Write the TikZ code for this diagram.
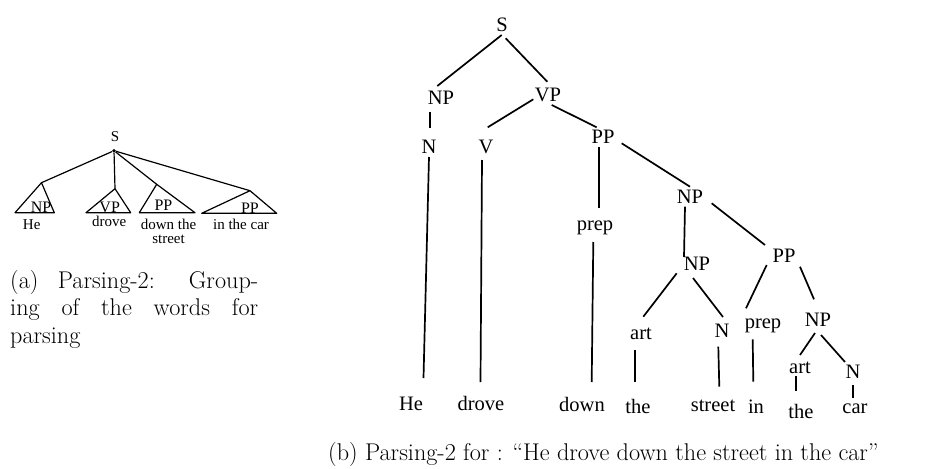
\documentclass[tikz,border=0pt]{standalone}
\usepackage{fontspec}
\newfontfamily\tms{Liberation Serif}
\begin{document}
\begin{tikzpicture}[x=1pt,y=-1pt,
  lbl/.style={font=\tms\fontsize{20.5}{24}\selectfont, inner sep=0, anchor=base},
  small/.style={font=\tms\fontsize{15}{13.6}\selectfont, inner sep=0, anchor=base},
  tri/.style={font=\tms\fontsize{16}{18}\selectfont, inner sep=0, anchor=base},
  edge/.style={line width=1.7pt},
  thinedge/.style={line width=1.2pt, line join=round},
  captxt/.style={font=\fontsize{24.2}{27.5}\selectfont, inner sep=0}]
\useasboundingbox (0,0) rectangle (938,469);

% ---------- (a) grouping of the words ----------
\node[small] (sa) at (115,141.7) {S};
\node[circle, fill, inner sep=0, minimum size=3.6pt] (root) at (114,150.7) {};
\coordinate (tnp) at (41.5,182.7);
\coordinate (tvp) at (115,188.7);
\coordinate (tpp) at (156.7,184.3);
\coordinate (tpq) at (250,190.7);
\draw[thinedge] (tnp) -- (15,212.7) -- (54.3,212.7) -- cycle;
\draw[thinedge] (tvp) -- (86,212.7) -- (130.7,212.7) -- cycle;
\draw[thinedge] (tpp) -- (139.3,212.7) -- (195,212.7) -- cycle;
\draw[thinedge] (tpq) -- (201.7,213.3) -- (276.7,213.3) -- cycle;
\draw[thinedge] (root) -- (tnp);
\draw[thinedge] (root) -- (tvp);
\draw[thinedge] (root) -- (tpp);
\draw[thinedge] (root) -- (tpq);
\node[tri] (gnp) at (41,212) {NP};
\node[tri] (gvp) at (109.7,212) {VP};
\node[tri] (gpp) at (163.5,210) {PP};
\node[tri] (gpq) at (250,213) {PP};
\node[small] (ghe) at (31.7,229.3) {He};
\node[small] (gdrove) at (109.3,226.7) {drove};
% two-line label: its base anchor sits on the last line
\node[small, align=center] (gdown) at (168.5,243) {down the\\street};
\node[small] (gcar) at (241,229.3) {in the car};

\node[captxt, anchor=base west] (capa) at (10,288)
  {\parbox[t]{248pt}{(a) Parsing-2: Group-\linebreak ing of the words for\linebreak parsing}};

% ---------- (b) full parse tree ----------
\node[lbl] (s) at (502,31) {S};
\node[lbl] (np1) at (441,104) {NP};
\node[lbl] (vp) at (548,101) {VP};
\node[lbl] (n1) at (429,153) {N};
\node[lbl] (v) at (486,153) {V};
\node[lbl] (pp1) at (603,143) {PP};
\node[lbl] (prep1) at (595,230) {prep};
\node[lbl] (np2) at (690,203) {NP};
\node[lbl] (np3) at (697,270) {NP};
\node[lbl] (pp2) at (784,262) {PP};
\node[lbl] (art1) at (641,339) {art};
\node[lbl] (n2) at (722,337) {N};
\node[lbl] (prep2) at (763,328) {prep};
\node[lbl] (np4) at (818,326) {NP};
\node[lbl] (art2) at (800,373) {art};
\node[lbl] (n3) at (853,378) {N};
\node[lbl] (he) at (411,410) {He};
\node[lbl] (drove) at (481,410) {drove};
\node[lbl] (down) at (582,411) {down};
\node[lbl] (the1) at (638,413) {the};
\node[lbl] (street) at (713,411) {street};
\node[lbl] (in) at (756,413) {in};
\node[lbl] (the2) at (801,418) {the};
\node[lbl] (car) at (855,413) {car};

\draw[edge] ([shift={(-0.3,4)}]s.base) -- ([shift={(-3.7,-18)}]np1.base);
\draw[edge] ([shift={(3.7,7.3)}]s.base) -- ([shift={(-0.7,-19.3)}]vp.base);
\draw[edge] ([shift={(-11,7.7)}]np1.base) -- ([shift={(1,-25.3)}]n1.base);
\draw[edge] ([shift={(-14.7,-1.7)}]vp.base) -- ([shift={(1.7,-25.7)}]v.base);
\draw[edge] ([shift={(3.7,4)}]vp.base) -- ([shift={(-6.3,-15.7)}]pp1.base);
\draw[edge] ([shift={(18.7,0.3)}]pp1.base) -- ([shift={(0,-16.3)}]np2.base);
\draw[edge] ([shift={(0,4)}]n1.base) -- ([shift={(12.5,-32)}]he.base);
\draw[edge] ([shift={(-4,7)}]v.base) -- ([shift={(-0.5,-28)}]drove.base);
\draw[edge] ([shift={(-3.7,4)}]pp1.base) -- ([shift={(4.3,-21.7)}]prep1.base);
\draw[edge] ([shift={(-1.7,12)}]prep1.base) -- ([shift={(9.7,-29)}]down.base);
\draw[edge] ([shift={(-5,3.7)}]np2.base) -- ([shift={(-13,-13)}]np3.base);
\draw[edge] ([shift={(21.7,0.3)}]np2.base) -- ([shift={(-19,-17)}]pp2.base);
\draw[edge] ([shift={(-20.3,3.3)}]np3.base) -- ([shift={(2.3,-22.3)}]art1.base);
\draw[edge] ([shift={(-4,8)}]np3.base) -- ([shift={(1,-20)}]n2.base);
\draw[edge] ([shift={(-6,11)}]art1.base) -- ([shift={(-3,-31)}]the1.base);
\draw[edge] ([shift={(-3.7,9.7)}]n2.base) -- ([shift={(6.3,-24.3)}]street.base);
\draw[edge] ([shift={(-17.3,3)}]pp2.base) -- ([shift={(-17,-19.7)}]prep2.base);
\draw[edge] ([shift={(16,4.7)}]pp2.base) -- ([shift={(-4,-26.7)}]np4.base);
\draw[edge] ([shift={(-10.3,11.3)}]prep2.base) -- ([shift={(-2.7,-31.3)}]in.base);
\draw[edge] ([shift={(-3,7)}]np4.base) -- ([shift={(0,-18)}]art2.base);
\draw[edge] ([shift={(3,9)}]np4.base) -- ([shift={(-8,-16)}]n3.base);
\draw[edge] ([shift={(-4,3)}]art2.base) -- ([shift={(-5,-27)}]the2.base);
\draw[edge] ([shift={(0,7)}]n3.base) -- ([shift={(-2,-15)}]car.base);

\node[captxt, anchor=base west] (capb) at (328,460)
  {(b) Parsing-2 for : ``He drove down the street in the car''};
\end{tikzpicture}
\end{document}
